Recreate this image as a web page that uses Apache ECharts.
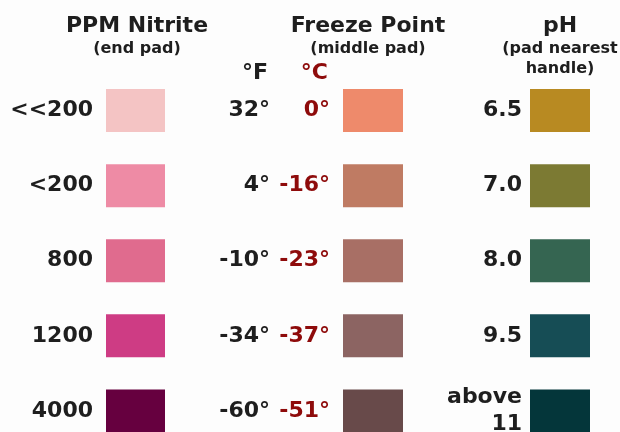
<!DOCTYPE html>
<html>
<head>
<meta charset="utf-8">
<script src="https://cdn.jsdelivr.net/npm/echarts@6/dist/echarts.min.js"></script>
<style>
  html, body { margin: 0; padding: 0; background: #fdfdfd; }
  #chart { width: 620px; height: 432px; }
</style>
</head>
<body>
<div id="chart"></div>
<script>
// ---- data ----
const nitriteLabels = ['<<200', '<200', '800', '1200', '4000'];
const nitriteColors = ['#F4C4C4', '#EE8BA5', '#E06B8E', '#CE3C84', '#66003F'];

const fahrenheit = ['32°', '4°', '-10°', '-34°', '-60°'];
const celsius = ['0°', '-16°', '-23°', '-37°', '-51°'];
const freezeColors = ['#EE8A6B', '#BF7B63', '#A86F65', '#8C6462', '#684A4A'];

const phLabels = ['6.5', '7.0', '8.0', '9.5', 'above\n11'];
const phColors = ['#B88A22', '#7C7A33', '#356551', '#164D55', '#04363A'];

const headings = ['PPM Nitrite', 'Freeze Point', 'pH'];
const subHeadings = ['(end pad)', '(middle pad)', '(pad nearest\nhandle)'];
const unitLabels = ['°F', '°C'];

// ---- style ----
const FONT = 'DejaVu Sans';
const DARK = '#1e1e1e';
const RED = '#8E0B0B';

const chart = echarts.init(document.getElementById('chart'), null, { renderer: 'canvas' });

const gridTop = 73;
const gridHeight = 375.5;
const grids = [
  { left: 106, width: 59, top: gridTop, height: gridHeight, outerBoundsMode: 'none', containLabel: false },
  { left: 343, width: 60, top: gridTop, height: gridHeight, outerBoundsMode: 'none', containLabel: false },
  { left: 530, width: 60, top: gridTop, height: gridHeight, outerBoundsMode: 'none', containLabel: false }
];

const labelStyle = { color: DARK, fontFamily: FONT, fontWeight: 'bold', fontSize: 22 };

function xAxisFor(i) {
  return { type: 'value', gridIndex: i, min: 0, max: 1, show: false };
}

const rowIdx = nitriteLabels.map((_, i) => String(i));

const yAxes = [
  {
    type: 'category', gridIndex: 0, inverse: true, data: nitriteLabels,
    axisLine: { show: false }, axisTick: { show: false }, splitLine: { show: false },
    axisLabel: Object.assign({ margin: 13, align: 'right' }, labelStyle)
  },
  {
    type: 'category', gridIndex: 1, inverse: true, data: rowIdx,
    axisLine: { show: false }, axisTick: { show: false }, splitLine: { show: false },
    axisLabel: {
      margin: 13, align: 'right',
      formatter: (v, i) => '{f|' + fahrenheit[i] + '}{c|' + celsius[i] + '}',
      rich: {
        f: { color: DARK, fontFamily: FONT, fontWeight: 'bold', fontSize: 22 },
        c: { color: RED, fontFamily: FONT, fontWeight: 'bold', fontSize: 22, width: 60, align: 'right' }
      }
    }
  },
  {
    type: 'category', gridIndex: 2, inverse: true, data: phLabels,
    axisLine: { show: false }, axisTick: { show: false }, splitLine: { show: false },
    axisLabel: Object.assign({ margin: 8, align: 'right', lineHeight: 27 }, labelStyle)
  }
];

function barSeries(i, colors) {
  return {
    type: 'bar', xAxisIndex: i, yAxisIndex: i, barWidth: 43,
    silent: true, animation: false,
    data: colors.map(c => ({ value: 1, itemStyle: { color: c } }))
  };
}

const headX = [137, 368, 560];
const graphic = [];
headings.forEach((t, i) => {
  graphic.push({
    type: 'text', x: headX[i], y: 26,
    style: { text: t, fill: DARK, font: 'bold 22px "' + FONT + '"', align: 'center', verticalAlign: 'middle' }
  });
  graphic.push({
    type: 'text', x: headX[i], y: 39,
    style: { text: subHeadings[i], fill: DARK, font: 'bold 16px "' + FONT + '"', align: 'center', verticalAlign: 'top', lineHeight: 20 }
  });
});

graphic.push({
  type: 'text', x: 268, y: 73,
  style: { text: unitLabels[0], fill: DARK, font: 'bold 22px "' + FONT + '"', align: 'right', verticalAlign: 'middle' }
});
graphic.push({
  type: 'text', x: 328, y: 73,
  style: { text: unitLabels[1], fill: RED, font: 'bold 22px "' + FONT + '"', align: 'right', verticalAlign: 'middle' }
});

chart.setOption({
  backgroundColor: '#fdfdfd',
  animation: false,
  grid: grids,
  xAxis: [xAxisFor(0), xAxisFor(1), xAxisFor(2)],
  yAxis: yAxes,
  series: [
    barSeries(0, nitriteColors),
    barSeries(1, freezeColors),
    barSeries(2, phColors)
  ],
  graphic: graphic
});
</script>
</body>
</html>
